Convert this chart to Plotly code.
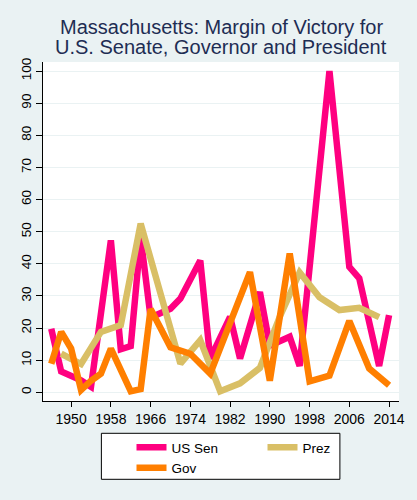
import plotly.graph_objects as go

# margins of victory (percentage points)
sen_years = [1946, 1948, 1952, 1954, 1958, 1960, 1962, 1964, 1966, 1970, 1972,
             1976, 1978, 1982, 1984, 1988, 1990, 1994, 1996, 2002, 2006, 2008,
             2012, 2014]
sen_margin = [19.8, 6.5, 3.7, 1.7, 47.3, 13.4, 14.4, 48.2, 23.3, 26.0, 29.2,
              41.0, 10.5, 23.5, 10.5, 31.2, 14.5, 17.3, 8.2, 100.0, 39.0, 35.5,
              8.2, 24.0]

prez_years = [1948, 1952, 1956, 1960, 1964, 1968, 1972, 1976, 1980, 1984,
              1988, 1992, 1996, 2000, 2004, 2008, 2012]
prez_margin = [12.0, 8.8, 18.8, 20.9, 52.5, 30.2, 8.9, 16.2, 0.3, 2.8,
               7.6, 23.5, 37.3, 29.6, 25.6, 26.3, 23.4]

gov_years = [1946, 1948, 1950, 1952, 1954, 1956, 1958, 1960, 1962, 1964, 1966,
             1970, 1974, 1978, 1982, 1986, 1990, 1994, 1998, 2002, 2006, 2010,
             2014]
gov_margin = [8.9, 18.8, 13.6, 0.7, 3.6, 5.8, 13.6, 6.5, 0.3, 1.0, 25.9,
              14.0, 12.0, 5.8, 21.8, 37.4, 3.6, 43.2, 3.4, 5.2, 22.2, 7.4,
              2.2]

x_ticks = list(range(1950, 2015, 8))
y_ticks = list(range(0, 101, 10))

BG = "#EAF2F3"
FONT = "Liberation Sans, Arial, sans-serif"

fig = go.Figure()
fig.add_trace(go.Scatter(x=sen_years, y=sen_margin, mode="lines", name="US Sen",
                         line=dict(color="#FF0080", width=6.5)))
fig.add_trace(go.Scatter(x=prez_years, y=prez_margin, mode="lines", name="Prez",
                         line=dict(color="#D9BF66", width=6.5)))
fig.add_trace(go.Scatter(x=gov_years, y=gov_margin, mode="lines", name="Gov",
                         line=dict(color="#FF7F00", width=6.5)))

for txt, yy in [("Massachusetts: Margin of Victory for", 1.104),
                ("U.S. Senate, Governor and President", 1.045)]:
    fig.add_annotation(text=txt, xref="paper", yref="paper", x=0.5, y=yy,
                       xanchor="center", yanchor="middle", showarrow=False,
                       font=dict(family=FONT, size=20, color="#1E2D53"))

# white legend box, drawn separately so its size matches the original
fig.add_shape(type="rect", xref="paper", yref="paper",
              x0=0.164, x1=0.834, y0=-0.231, y1=-0.0953,
              fillcolor="white", line=dict(color="black", width=1),
              layer="above")

fig.update_xaxes(range=[1944.34, 2016], tickvals=x_ticks, showgrid=False,
                 zeroline=False, showline=True, linecolor="black", linewidth=1,
                 ticks="outside", ticklen=5, tickcolor="black",
                 tickfont=dict(family=FONT, size=14, color="black"))
fig.update_yaxes(range=[-2.71, 102.8], tickvals=y_ticks, showgrid=True,
                 gridcolor=BG, gridwidth=1, zeroline=False, showline=True,
                 linecolor="black", linewidth=1, ticks="outside", ticklen=6,
                 tickcolor="black", tickangle=-90,
                 tickfont=dict(family=FONT, size=13.5, color="black"))

fig.update_layout(
    width=417, height=500,
    paper_bgcolor=BG, plot_bgcolor="white",
    margin=dict(l=43, r=16, t=62, b=99),
    font=dict(family=FONT),
    legend=dict(orientation="h", x=0.2486, xanchor="left", y=-0.0914,
                yanchor="top", bgcolor="rgba(0,0,0,0)", borderwidth=0,
                entrywidth=86,
                font=dict(family=FONT, size=13.5, color="black")),
)

# page has a default 8px body margin; drop it so the figure sits at 0,0
fig.write_html("out.html", config={"displayModeBar": False},
               post_script="document.body.style.margin='0';")
